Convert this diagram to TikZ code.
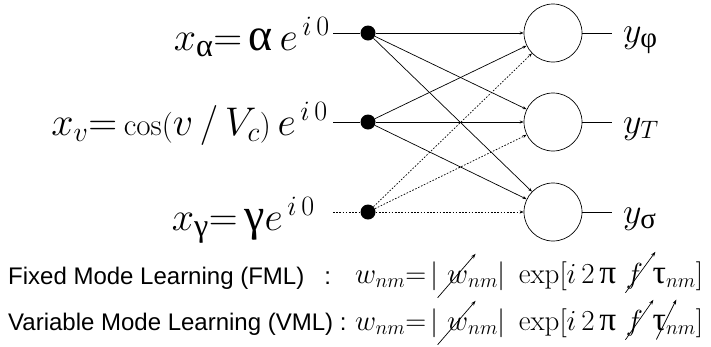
\RequirePackage{fix-cm}
\documentclass[tikz,border=0pt]{standalone}
\usepackage{amsmath}
\usepackage{fontspec}
\newfontfamily\grk[Scale=1.15]{Liberation Serif}
\newfontfamily\sansf{Liberation Sans}
\usetikzlibrary{arrows.meta,calc}
\newcommand\gk[1]{\text{\grk\upshape #1}}
\newcommand\sm[1]{\text{\fontsize{31}{34}\selectfont #1}}
\tikzset{strike/.style={line width=0.7pt,-{Stealth[length=5pt,width=3.5pt]}}}
\newcommand\strk[3]{\tikz[baseline=(g.base),x=1pt,y=1pt]{\node[inner sep=0pt,outer sep=0pt,anchor=center,draw=none](g) at (0,0){$#1$};\draw[strike,overlay] ($(g.center)+(#2)$) -- ++(#3);}}
\begin{document}
\begin{tikzpicture}[x=1pt,y=-1pt,
  dotnode/.style={circle,fill=black,inner sep=0pt,minimum size=15pt},
  neuron/.style={circle,draw,line width=0.7pt,inner sep=0pt,minimum size=58pt},
  wire/.style={line width=0.7pt},
  link/.style={line width=0.7pt,-{Stealth[length=4pt,width=3pt]}},
  dlink/.style={line width=0.7pt,dash pattern=on 1.6pt off 1.6pt,-{Stealth[length=4pt,width=3pt]}},
  bigmath/.style={font=\fontsize{40}{46}\selectfont,inner sep=0pt},
  outlabel/.style={font=\fontsize{36}{42}\selectfont,inner sep=0pt,anchor=base west},
  lawtext/.style={font=\sansf\fontsize{24}{28}\selectfont,inner sep=0pt,anchor=base west},
  lawmath/.style={font=\fontsize{29}{34}\selectfont,inner sep=0pt,anchor=base west}]
\useasboundingbox (0,0) rectangle (711,346);
% inputs
\node[bigmath,anchor=base east] (t1) at (330,50) {$x_{\gk{α}}{=}\,\gk{α}\,e^{\,i\,0}$};
\node[bigmath,anchor=base east] (t2) at (328,135) {$x_v{=}\,\sm{cos(}v\,{/}\,V_c\sm{)}\,e^{\,i\,0}$};
\node[bigmath,anchor=base east] (t3) at (315,230) {$x_{\gk{γ}}{=}\,\gk{γ}e^{\,i\,0}$};
\coordinate (s1) at (333,33);
\coordinate (s2) at (333,122);
\coordinate (s3) at (333,212);
\node[dotnode] (d1) at (368,33) {};
\node[dotnode] (d2) at (368,122) {};
\node[dotnode] (d3) at (368,212) {};
\draw[wire] (s1) -- (d1);
\draw[wire] (s2) -- (d2);
\draw[wire,dash pattern=on 1.6pt off 1.6pt] (s3) -- (d3);
% neurons
\node[neuron] (n1) at (553,33) {};
\node[neuron] (n2) at (553,122) {};
\node[neuron] (n3) at (553,212) {};
\draw[link] (d1) -- (n1);
\draw[link] (d1) -- (n2);
\draw[link] (d1) -- (n3);
\draw[link] (d2) -- (n1);
\draw[link] (d2) -- (n2);
\draw[link] (d2) -- (n3);
\draw[dlink] (d3) -- (n1);
\draw[dlink] (d3) -- (n2);
\draw[dlink] (d3) -- (n3);
% outputs
\coordinate (o1) at (612,33);
\coordinate (o2) at (612,122);
\coordinate (o3) at (612,212);
\draw[wire] (n1) -- (o1);
\draw[wire] (n2) -- (o2);
\draw[wire] (n3) -- (o3);
\node[outlabel] (y1) at (623,42) {$y_{\gk{φ}}$};
\node[outlabel] (y2) at (623,133) {$y_T$};
\node[outlabel] (y3) at (623,223) {$y_{\gk{σ}}$};
% learning rules
\node[lawtext] (l1) at (8,284) {Fixed Mode Learning (FML) \ \ :};
\node[lawtext] (l2) at (8,330) {Variable Mode Learning (VML) :};
\node[lawmath] (f1) at (355,283) {$w_{nm}{=}\,|\;\strk{w}{-20,-21}{38,44}_{nm}|\;\exp[i\,2\,\gk{π}\,\,\strk{f}{-9,-17}{30,41}\,\,\gk{τ}_{nm}]$};
\node[lawmath] (f2) at (355,330) {$w_{nm}{=}\,|\;\strk{w}{-20,-21}{38,44}_{nm}|\;\exp[i\,2\,\gk{π}\,\,\strk{f}{-9,-17}{28,40}\,\,\strk{\gk{τ}}{-3,-17}{20,40}_{nm}]$};
\end{tikzpicture}
\end{document}
